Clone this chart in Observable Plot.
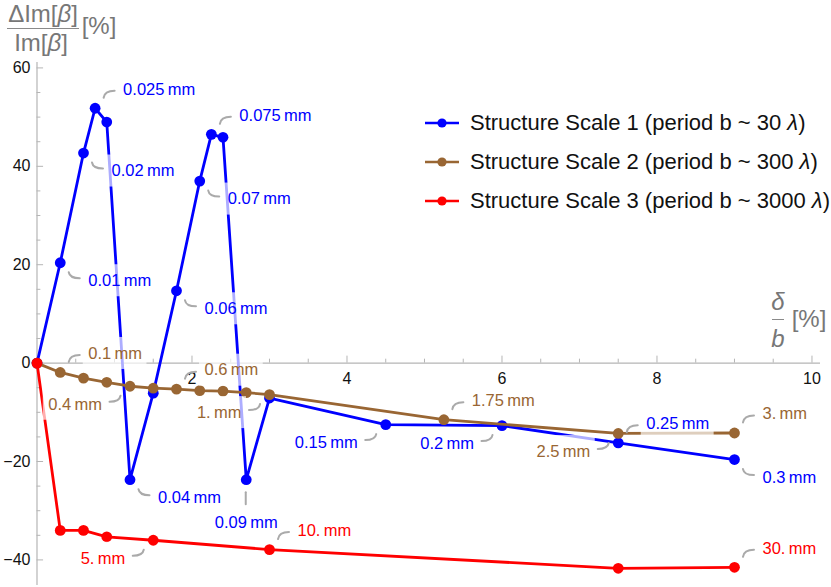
<!DOCTYPE html>
<html><head><meta charset="utf-8">
<script src="https://cdn.jsdelivr.net/npm/d3@7"></script>
<script src="https://cdn.jsdelivr.net/npm/@observablehq/plot@0.6"></script>
<style>
body{margin:0;background:#fff;}
#wrap{position:relative;width:831px;height:587px;font-family:"Liberation Sans",Arial,sans-serif;overflow:hidden;}
.lab{position:absolute;color:#777;font-size:24px;line-height:1;white-space:nowrap;transform:translate(-50%,-50%);}
.bar{position:absolute;background:#8a8a8a;height:1.4px;}
.leg{position:absolute;left:425px;height:30px;display:flex;align-items:center;font-size:22px;color:#111;white-space:nowrap;}
.leg svg{margin-right:11px;}
</style></head>
<body><div id="wrap"></div>
<script>
// ---- data (x = delta/b in %, y = dIm[beta]/Im[beta] in %) ----
const seriesNames = ["Structure Scale 1 (period b ~ 30 λ)", "Structure Scale 2 (period b ~ 300 λ)", "Structure Scale 3 (period b ~ 3000 λ)"];
const seriesColors = ["#0000ff", "#996633", "#ff0000"];

const s1X = [0, 0.3, 0.6, 0.75, 0.9, 1.2, 1.5, 1.8, 2.1, 2.25, 2.4, 2.7, 3.0, 4.5, 6.0, 7.5, 9.0];
const s1Y = [0, 20.4, 42.7, 51.8, 49.0, -23.7, -6.1, 14.7, 37.0, 46.5, 45.9, -23.7, -7.1, -12.5, -12.7, -16.2, -19.6];
const s2X = [0, 0.3, 0.6, 0.9, 1.2, 1.5, 1.8, 2.1, 2.4, 2.7, 3.0, 5.25, 7.5, 9.0];
const s2Y = [0, -1.9, -3.05, -3.9, -4.7, -5.1, -5.3, -5.6, -5.7, -6.0, -6.4, -11.5, -14.3, -14.2];
const s3X = [0, 0.3, 0.6, 0.9, 1.5, 3.0, 7.5, 9.0];
const s3Y = [0, -34.0, -34.0, -35.3, -36.0, -37.9, -41.7, -41.5];

// callout labels: at which x, text, placement
const s1LabelAt = [0.3, 0.6, 0.75, 1.2, 1.8, 2.1, 2.25, 2.7, 4.5, 6.0, 7.5, 9.0];
const s1LabelText = ["0.01 mm", "0.02 mm", "0.025 mm", "0.04 mm", "0.06 mm", "0.07 mm", "0.075 mm", "0.09 mm", "0.15 mm", "0.2 mm", "0.25 mm", "0.3 mm"];
const s1LabelDir = ["SE", "SE", "NE", "SE", "SE", "SE", "NE", "S", "SW", "SW", "NE", "SE"];
const s2LabelAt = [0.3, 1.2, 1.8, 3.0, 5.25, 7.5, 9.0];
const s2LabelText = ["0.1 mm", "0.4 mm", "0.6 mm", "1. mm", "1.75 mm", "2.5 mm", "3. mm"];
const s2LabelDir = ["NE", "SW", "NE", "SW", "NE", "SW", "NE"];
const s3LabelAt = [1.5, 3.0, 9.0];
const s3LabelText = ["5. mm", "10. mm", "30. mm"];
const s3LabelDir = ["SW", "NE", "NE"];

// axes ticks
const xMajor = [2, 4, 6, 8, 10];
const xTickLabels = ["2", "4", "6", "8", "10"];
const xMinor = [0.5, 1, 1.5, 2.5, 3, 3.5, 4.5, 5, 5.5, 6.5, 7, 7.5, 8.5, 9, 9.5];
const yMajor = [-40, -20, 0, 20, 40, 60];
const yTickLabels = ["\u221240", "\u221220", "0", "20", "40", "60"];
const yMinor = [-35, -30, -25, -15, -10, -5, 5, 10, 15, 25, 30, 35, 45, 50, 55];

// ---- build tables ----
const raw = [[s1X, s1Y, s1LabelAt, s1LabelText, s1LabelDir], [s2X, s2Y, s2LabelAt, s2LabelText, s2LabelDir], [s3X, s3Y, s3LabelAt, s3LabelText, s3LabelDir]];
const series = raw.map(([X, Y], i) => X.map((x, j) => ({x, y: Y[j], s: i, color: seriesColors[i]})));
const labels = raw.flatMap(([X, Y, at, txt, dir], i) => at.map((a, k) => ({
  x: a, y: Y[X.indexOf(a)], text: txt[k].replace(" ", "\u2009"), dir: dir[k], color: seriesColors[i]
})));

const LFONT = 16.5;
const ctx = document.createElement("canvas").getContext("2d");
ctx.font = `${LFONT}px "Liberation Sans", Arial, sans-serif`;
const measure = t => ctx.measureText(t).width;

const OFF = {NE: {dx: 28, dy: -19}, SE: {dx: 28, dy: 18}, SW: {dx: -28, dy: 18}, S: {dx: 0, dy: 43}};
const LEAD = {
  NE: "M9,-10 Q10,-17 20,-17",
  SE: "M9,10 Q10,16 20,16",
  SW: "M-9,10 Q-10,16 -20,16",
  S: "M0,13 L0,25"
};

function calloutBoxes(index, scales) {
  const g = d3.create("svg:g");
  for (const d of labels) {
    const px = scales.x(d.x), py = scales.y(d.y);
    const w = measure(d.text), o = OFF[d.dir];
    let x0;
    if (d.dir === "NE" || d.dir === "SE") x0 = px + o.dx - 5;
    else if (d.dir === "SW") x0 = px + o.dx - w - 5;
    else x0 = px - w / 2 - 5;
    g.append("rect").attr("x", x0).attr("y", py + o.dy - 16).attr("width", w + 10).attr("height", 32)
      .attr("fill", "white").attr("fill-opacity", 0.68);
  }
  return g.node();
}
function calloutLeaders(index, scales) {
  const g = d3.create("svg:g").attr("fill", "none").attr("stroke", "#aaaaaa").attr("stroke-width", 2).attr("stroke-linecap", "round");
  for (const d of labels) {
    const px = scales.x(d.x), py = scales.y(d.y);
    g.append("path").attr("transform", `translate(${px},${py})`).attr("d", LEAD[d.dir]);
  }
  return g.node();
}

const seriesMarks = series.flatMap(rows => [
  Plot.line(rows, {x: "x", y: "y", stroke: rows[0].color, strokeWidth: 2.8}),
  Plot.dot(rows, {x: "x", y: "y", r: 5.4, fill: rows[0].color, stroke: null})
]);

const labelMarks = ["NE", "SE", "SW", "S"].map(dir => Plot.text(labels.filter(d => d.dir === dir), {
  x: "x", y: "y", text: "text", fill: d => d.color, fontSize: LFONT,
  dx: OFF[dir].dx, dy: OFF[dir].dy,
  textAnchor: dir === "SW" ? "end" : dir === "S" ? "middle" : "start"
}));

const AX = "#b5b5b5";
const chart = Plot.plot({
  width: 831, height: 587,
  marginLeft: 36.5, marginRight: 11, marginTop: 62, marginBottom: 2,
  x: {domain: [0, 10.11], axis: null},
  y: {domain: [-45.2, 61.1], axis: null},
  style: {fontFamily: '"Liberation Sans", Arial, sans-serif', fontSize: "16px", background: "white", overflow: "visible"},
  marks: [
    Plot.ruleY([0], {x1: 0, x2: 10.11, stroke: AX, strokeWidth: 1.2}),
    Plot.ruleX([0], {y1: -45.2, y2: 61.1, stroke: AX, strokeWidth: 1.2}),
    Plot.ruleX(xMajor, {x: d => d, y1: 0, y2: 1.42, stroke: AX}),
    Plot.ruleX(xMinor, {x: d => d, y1: 0, y2: 0.8, stroke: AX}),
    Plot.ruleY(yMajor, {y: d => d, x1: 0, x2: 0.085, stroke: AX}),
    Plot.ruleY(yMinor, {y: d => d, x1: 0, x2: 0.05, stroke: AX}),
    Plot.text(xMajor, {x: d => d, y: 0, dy: 15.5, text: (d, i) => xTickLabels[i], fill: "#111", fontSize: 16}),
    Plot.text(yMajor, {x: 0, y: d => d, dx: -6.5, text: (d, i) => yTickLabels[i], textAnchor: "end", fill: "#111", fontSize: 16}),
    ...seriesMarks,
    calloutBoxes,
    calloutLeaders,
    ...labelMarks
  ]
});

const wrap = document.getElementById("wrap");
wrap.appendChild(chart);

// axis labels (Mathematica-style fractions)
function add(html, cls, css) {
  const e = document.createElement("div");
  e.className = cls; e.innerHTML = html; Object.assign(e.style, css); wrap.appendChild(e);
}
add("&Delta;Im[<i>&beta;</i>]", "lab", {left: "43px", top: "14px"});
add("", "bar", {left: "7px", top: "27.8px", width: "72px"});
add("Im[<i>&beta;</i>]", "lab", {left: "41px", top: "43px"});
add("[%]", "lab", {left: "99px", top: "26px"});
add("<i>&delta;</i>", "lab", {left: "778px", top: "302px"});
add("", "bar", {left: "771.5px", top: "318.5px", width: "12.5px"});
add("<i>b</i>", "lab", {left: "778px", top: "339px"});
add("[%]", "lab", {left: "809px", top: "319px"});

// legend
const legY = [123.3, 161.7, 200.7];
seriesNames.forEach((name, i) => {
  const c = seriesColors[i];
  const html = `<svg width="34" height="14"><line x1="0" y1="7" x2="34" y2="7" stroke="${c}" stroke-width="2.7"/><circle cx="17" cy="7" r="4.6" fill="${c}"/></svg><span>${name.replace("λ", "<i>λ</i>")}</span>`;
  add(html, "leg", {top: (legY[i] - 15) + "px"});
});
</script>
</body></html>
